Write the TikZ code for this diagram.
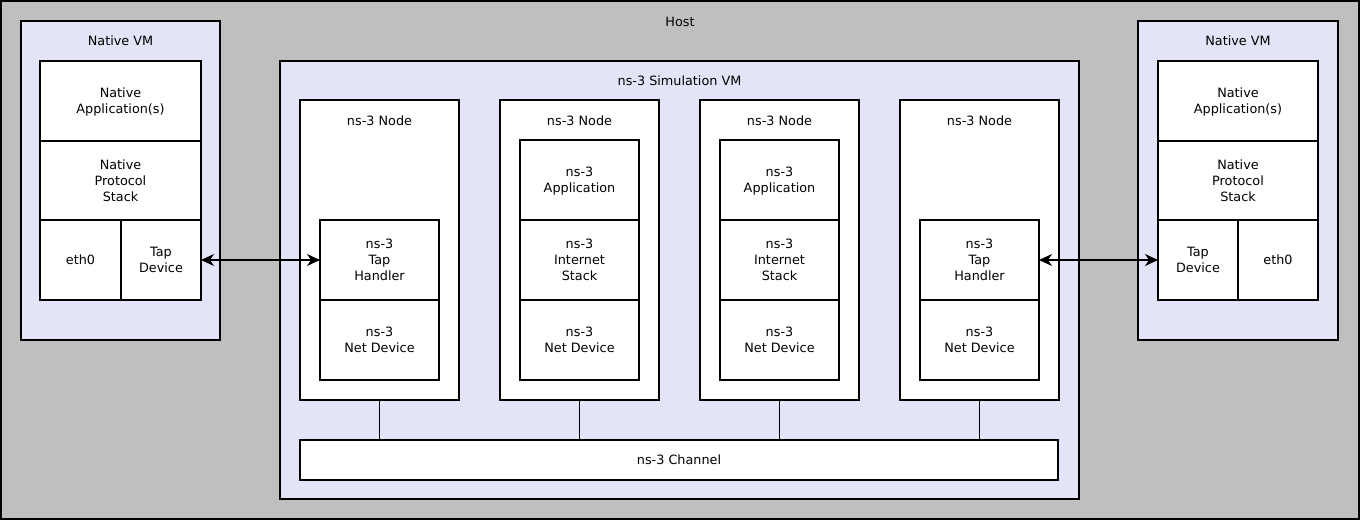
\documentclass[tikz,border=0pt]{standalone}
\usepackage{fontspec}
\setmainfont{DejaVu Sans}
\usetikzlibrary{arrows.meta}
\definecolor{hostgray}{RGB}{191,191,191}
\definecolor{vmlav}{RGB}{228,228,248}
\begin{document}
\begin{tikzpicture}[x=1pt,y=-1pt,
  every node/.style={font=\fontsize{12.8}{16}\selectfont, inner sep=0pt, outer sep=0pt},
  cont/.style={draw=black, line width=2pt, anchor=north west},
  hostbox/.style={cont, fill=hostgray},
  vmbox/.style={cont, fill=vmlav},
  whitebox/.style={cont, fill=white, align=center, text depth=0pt, yshift=0pt},
  lbl/.style={anchor=center, align=center},
  biarrow/.style={{Stealth[length=13pt,width=12pt,inset=4pt]}-{Stealth[length=13pt,width=12pt,inset=4pt]}, line width=1.5pt},
  link/.style={line width=1.8pt}
]
\useasboundingbox (0,0) rectangle (1361,522);
% Host
\node[hostbox, minimum width=1358pt, minimum height=518pt] (host) at (1,1) {};
\node[lbl] (hostlbl) at (680,21.5) {Host};

% Left Native VM
\node[vmbox, minimum width=199pt, minimum height=319pt] (lvm) at (21,21) {};
\node[lbl] (lvmlbl) at (120.5,40.5) {Native VM};
\node[whitebox, minimum width=161pt, minimum height=80pt] (lapp) at (40,61) {Native\\Application(s)};
\node[whitebox, minimum width=161pt, minimum height=79pt] (lstack) at (40,141) {Native\\Protocol\\Stack};
\node[whitebox, minimum width=81pt, minimum height=80pt] (leth) at (40,220) {eth0};
\node[whitebox, minimum width=80pt, minimum height=80pt] (ltap) at (121,220) {Tap\\Device};

% Right Native VM
\node[vmbox, minimum width=200pt, minimum height=319pt] (rvm) at (1138,21) {};
\node[lbl] (rvmlbl) at (1238,40.5) {Native VM};
\node[whitebox, minimum width=160pt, minimum height=80pt] (rapp) at (1158,61) {Native\\Application(s)};
\node[whitebox, minimum width=160pt, minimum height=79pt] (rstack) at (1158,141) {Native\\Protocol\\Stack};
\node[whitebox, minimum width=80pt, minimum height=80pt] (rtap) at (1158,220) {Tap\\Device};
\node[whitebox, minimum width=80pt, minimum height=80pt] (reth) at (1238,220) {eth0};

% Simulation VM
\node[vmbox, minimum width=799pt, minimum height=438pt] (sim) at (280,61) {};
\node[lbl] (simlbl) at (679.5,80.5) {ns-3 Simulation VM};

% ns-3 nodes
\foreach \i/\x in {1/300,2/500,3/700,4/900}{
  \node[whitebox, minimum width=159pt, minimum height=300pt] (n\i) at (\x,100) {};
  \node[lbl] (n\i lbl) at (\x+79.5,121) {ns-3 Node};
}
% node 1 and 4: tap handler + net device
\foreach \i/\x in {1/320,4/920}{
  \node[whitebox, minimum width=119pt, minimum height=80pt] (th\i) at (\x,220) {ns-3\\Tap\\Handler};
  \node[whitebox, minimum width=119pt, minimum height=80pt] (nd\i) at (\x,300) {ns-3\\Net Device};
}
% node 2 and 3: application, internet stack, net device
\foreach \i/\x in {2/520,3/720}{
  \node[whitebox, minimum width=119pt, minimum height=80pt] (ap\i) at (\x,140) {ns-3\\Application};
  \node[whitebox, minimum width=119pt, minimum height=80pt] (is\i) at (\x,220) {ns-3\\Internet\\Stack};
  \node[whitebox, minimum width=119pt, minimum height=80pt] (nd\i) at (\x,300) {ns-3\\Net Device};
}

% Channel
\node[whitebox, minimum width=758pt, minimum height=40pt] (chan) at (300,440) {ns-3 Channel};

% links to channel
\foreach \i in {1,2,3,4}{
  \draw[link] (n\i.south) -- (n\i.south |- chan.north);
}

% Tap arrows
\draw[biarrow] (ltap.east) -- (th1.west);
\draw[biarrow] (th4.east) -- (rtap.west);
\end{tikzpicture}
\end{document}
